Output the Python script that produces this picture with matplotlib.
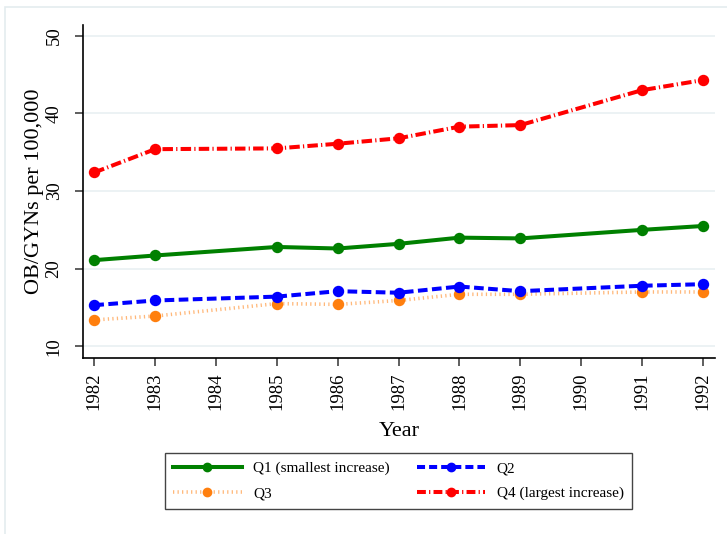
import matplotlib.pyplot as plt
from matplotlib.patches import Rectangle

# survey years (no observations in 1984 and 1990)
years = [1982, 1983, 1985, 1986, 1987, 1988, 1989, 1991, 1992]
tick_years = list(range(1982, 1993))

q1 = [21.1, 21.7, 22.8, 22.6, 23.2, 24.0, 23.9, 25.0, 25.5]
q2 = [15.3, 15.9, 16.4, 17.1, 16.9, 17.7, 17.1, 17.8, 18.0]
q3 = [13.4, 13.9, 15.5, 15.4, 15.9, 16.7, 16.7, 17.0, 17.0]
q4 = [32.4, 35.4, 35.5, 36.1, 36.8, 38.3, 38.5, 43.0, 44.3]

labels = ["Q1 (smallest increase)", "Q2", "Q3", "Q4 (largest increase)"]

plt.rcParams["font.family"] = ["Liberation Serif", "DejaVu Serif"]

fig = plt.figure(figsize=(7.27, 5.34), dpi=100)
ax = fig.add_axes([0.1138, 0.329, 0.8697, 0.6242])

# light frame around the graph region
fig.patches.append(
    Rectangle((5 / 727, -0.2), 1.2, 1.2 - 7 / 534,
              transform=fig.transFigure, fill=False,
              edgecolor="#e4ecef", linewidth=1.2, zorder=0)
)

ms = 7.2
ax.plot(years, q1, color="#008000", lw=2.9, marker="o", ms=ms,
        solid_capstyle="butt", zorder=3)
ax.plot(years, q2, color="#0000ff", lw=2.9, marker="o", ms=ms,
        dashes=(2.4, 1.1), zorder=4)
ax.plot(years, q3, color="#ff7f0e", lw=0, marker="o", ms=ms, zorder=3)
ax.plot(years, q3, color="#ff7f0e", alpha=0.55, lw=2.6,
        dashes=(0.35, 0.9), zorder=2)
ax.plot(years, q4, color="#ff0000", lw=2.9, marker="o", ms=ms,
        dashes=(2.6, 0.8, 0.3, 0.8), zorder=3)

ax.set_xlim(1981.81, 1992.2)
ax.set_ylim(8.45, 51.4)
ax.set_xticks(tick_years)
ax.set_xticklabels([str(y) for y in tick_years], rotation=90, fontsize=13.5)
ax.set_yticks([10, 20, 30, 40, 50])
ax.set_yticklabels(["10", "20", "30", "40", "50"], rotation=90,
                   va="center", fontsize=13.5)
ax.tick_params(axis="both", direction="out", length=6, width=1.1,
               color="#333333")
ax.tick_params(axis="y", pad=8.5)
ax.tick_params(axis="x", pad=4)

ax.grid(axis="y", color="#eaf1f3", lw=1.3)
ax.set_axisbelow(True)
for side in ("top", "right"):
    ax.spines[side].set_visible(False)
for side in ("left", "bottom"):
    ax.spines[side].set_linewidth(1.2)

ax.set_xlabel("Year", fontsize=16, labelpad=9)
ax.set_ylabel("OB/GYNs per 100,000", fontsize=16, labelpad=1)

# legend handles with a single marker, ordered to fill rows
h1, = ax.plot([], [], color="#008000", lw=2.9, marker="o", ms=6)
h2, = ax.plot([], [], color="#0000ff", lw=2.9, marker="o", ms=6,
              dashes=(2.0, 1.0))
h3, = ax.plot([], [], color="#ff7f0e", lw=0, marker="o", ms=6)
h3b, = ax.plot([], [], color="#ff7f0e", alpha=0.55, lw=2.6,
               dashes=(0.35, 0.9))
h4, = ax.plot([], [], color="#ff0000", lw=2.9, marker="o", ms=6,
              dashes=(2.2, 0.8, 0.3, 0.8))

leg = fig.legend([h1, (h3b, h3), h2, h4],
                 [labels[0], labels[2], labels[1], labels[3]],
                 ncol=2, loc="center", bbox_to_anchor=(0.5479, 0.0994),
                 fontsize=11, handlelength=4.5, handletextpad=0.75,
                 columnspacing=1.75, labelspacing=0.75, borderpad=0.55,
                 numpoints=1, fancybox=False, framealpha=1)
leg.get_frame().set_edgecolor("#444444")
leg.get_frame().set_linewidth(1.0)

fig.savefig("out.png", dpi=100)
